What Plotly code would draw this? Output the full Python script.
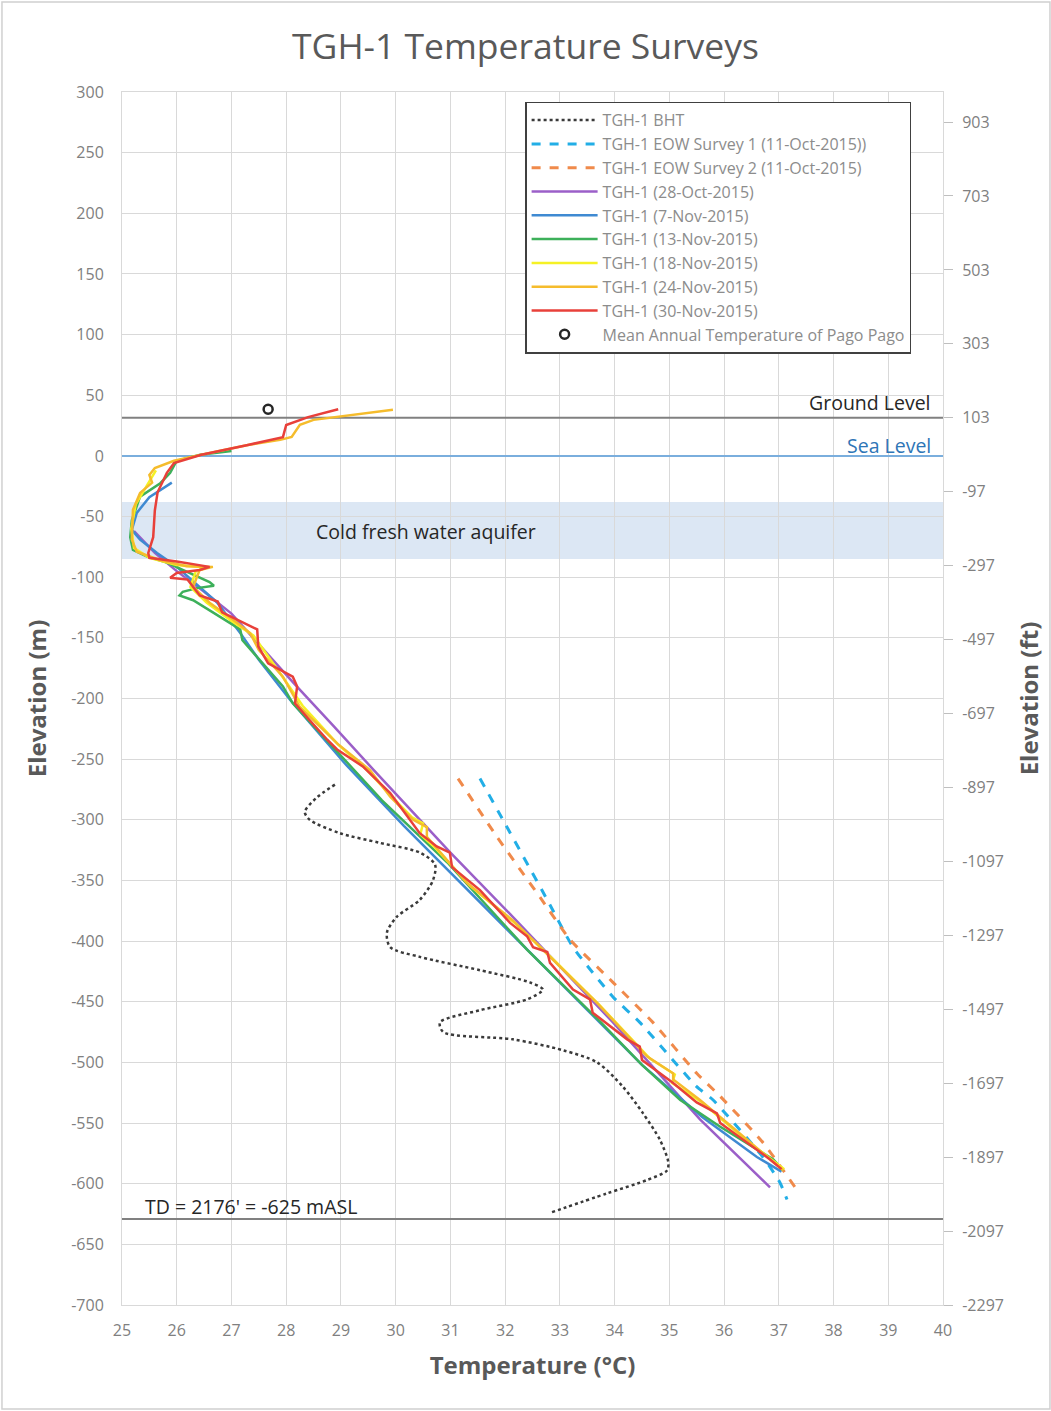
import plotly.graph_objects as go

# ---------------- data ----------------
bht_t = [28.89, 28.55, 28.34, 28.43, 28.98, 29.71, 30.44, 30.72, 30.68, 30.44,
         30.02, 29.84, 29.9, 30.44, 31.54, 32.45, 32.69, 32.4, 31.54, 30.81,
         30.87, 32.14, 33.06, 33.68, 34.15, 34.52, 34.83, 34.98, 34.96, 34.59,
         33.86, 32.82]
bht_z = [-271, -282, -293.5, -300, -311, -319, -327, -337, -350, -366,
         -380, -393, -405, -413, -424, -434, -440, -448, -457, -467,
         -475, -481, -490, -500, -520, -542, -564, -582, -589, -597,
         -608, -624]

eow1_t = [31.54, 31.96, 32.77, 33.24, 33.97, 34.46, 35.5, 35.8, 36.71, 37.02, 37.15]
eow1_z = [-266, -300, -366, -405, -446, -467, -520, -531, -578, -599, -613]

eow2_t = [31.14, 31.85, 32.64, 33.19, 33.97, 34.7, 35.5, 35.93, 36.71, 37.33]
eow2_z = [-266, -314, -364, -399, -434, -467, -509, -528, -566, -605]

oct28_t = [25.22, 25.6, 26.0, 26.5, 27.0, 27.5, 28.15, 28.85, 29.6, 31.0, 32.14, 33.97, 35.56, 36.84]
oct28_z = [-62, -80, -95, -112, -130, -155, -188, -222, -259, -327, -380, -467, -547, -603]

nov07_t = [25.91, 25.5, 25.27, 25.18, 25.33, 25.64, 25.99, 26.42, 26.74, 27.16,
           27.5, 28.07, 29.1, 30.15, 31.25, 32.35, 33.45, 34.5, 35.6, 36.6, 37.05]
nov07_z = [-22, -34, -47, -61, -69, -80, -91, -108, -121, -146,
           -168, -201, -255, -305, -355, -405, -455, -502, -545, -578, -590]

nov13_t = [27.0, 26.43, 26.0, 25.88, 25.7, 25.33, 25.18, 25.15, 25.2, 25.46,
           25.82, 26.24, 26.6, 26.68, 26.37, 26.11, 26.05, 26.3, 26.66, 27.16,
           27.2, 27.47, 27.94, 28.12, 29.17, 29.75, 30.94, 32.4, 33.75, 34.5,
           35.2, 35.93, 36.9, 37.08]
nov13_z = [4, 1, -4, -14, -22.5, -33.6, -53, -67, -77.5, -83,
           -88, -96.5, -104, -107, -109, -112, -115, -119, -129, -143,
           -152, -166, -190, -204, -256, -284, -335, -407, -467, -502,
           -531, -553, -580, -589]

nov18_t = [25.62, 25.45, 25.25, 25.17, 25.22, 25.5, 26.0, 26.55, 26.35, 26.25,
           26.55, 27.0, 27.4, 27.9, 28.3, 28.95, 29.5, 29.95, 30.3, 30.5,
           30.45, 30.7, 31.35, 32.2, 32.9, 33.75, 34.65, 35.1, 35.05, 35.6,
           36.45, 37.1]
nov18_z = [-12, -25, -40, -60, -76, -84, -90, -92, -95, -108,
           -121, -136, -148, -180, -206, -238, -260, -282, -298, -303,
           -312, -322, -354, -386, -416, -454, -497, -510, -517, -533,
           -566, -588]

nov24_t = [29.95, 29.22, 28.5, 28.25, 28.1, 27.89, 27.3, 26.45, 25.95, 25.6,
           25.5, 25.55, 25.33, 25.2, 25.18, 25.27, 25.7, 26.18, 26.66, 26.42,
           26.3, 26.6, 27.03, 27.34, 27.5, 27.94, 28.25, 28.93, 29.53, 29.9,
           30.32, 30.57, 30.57, 31.3, 32.14, 32.82, 33.68, 34.59, 35.07, 35.07,
           35.56, 36.4, 37.08]
nov24_z = [38, 33.8, 29.7, 25.6, 15.7, 13.2, 9, 1, -4, -10,
           -15.7, -22, -30.5, -44.5, -69, -79, -86, -91, -91.5, -94,
           -108, -121, -135, -146, -160, -182, -207, -237, -259, -281,
           -300, -306, -314, -352, -383, -413, -451, -495, -509, -514,
           -531, -563, -589]

nov30_t = [28.95, 28.4, 28.0, 27.94, 27.3, 26.45, 25.95, 25.82, 25.65, 25.6,
           25.57, 25.48, 25.5, 26.0, 26.6, 26.42, 26.0, 25.88, 26.2, 26.42,
           26.75, 26.83, 27.47, 27.49, 27.67, 28.12, 28.2, 28.16, 28.43, 28.75,
           28.93, 29.4, 29.9, 30.32, 30.44, 30.75, 30.99, 31.03, 31.54, 32.09,
           32.4, 32.51, 32.77, 32.82, 33.24, 33.55, 33.6, 34.23, 34.46, 34.5,
           35.07, 35.5, 35.87, 35.93, 36.42, 36.84, 37.05]
nov30_z = [38.5, 32, 25.5, 15.5, 9, 1, -6, -14, -30, -45,
           -67, -80, -84, -87, -91.5, -94, -96.5, -100.5, -102, -115,
           -120, -129, -143, -157, -171, -182, -190, -204, -218, -234,
           -242, -256, -278, -303, -311, -322, -327, -339, -358, -385,
           -396, -405, -409, -418, -440, -448, -459, -481, -487, -498,
           -517, -533, -542, -550, -566, -580, -588]

pago_t = [27.67]
pago_z = [38.5]

ground_level = 31.4
td_level = -629
aquifer_top = -38
aquifer_bottom = -85

m_ticks = list(range(-700, 301, 50))
m_labels = [str(v) for v in m_ticks]
ft_ticks = [-2297 + 200 * k for k in range(17)]
ft_labels = [str(v) for v in ft_ticks]

FONT = "Open Sans"
GRAY = "#595959"
TICK = "#808080"

fig = go.Figure()

fig.add_trace(go.Scatter(x=bht_t, y=bht_z, mode="lines", name="TGH-1 BHT",
                         line=dict(color="#3A3A3A", width=2.5, dash="dot", shape="spline", smoothing=0.8)))
fig.add_trace(go.Scatter(x=eow1_t, y=eow1_z, mode="lines", name="TGH-1 EOW Survey 1 (11-Oct-2015))",
                         line=dict(color="#22AEE6", width=3, dash="dash", shape="spline", smoothing=0.5)))
fig.add_trace(go.Scatter(x=eow2_t, y=eow2_z, mode="lines", name="TGH-1 EOW Survey 2 (11-Oct-2015)",
                         line=dict(color="#F08A4B", width=3, dash="dash", shape="spline", smoothing=0.5)))

solid = [
    (oct28_t, oct28_z, "TGH-1 (28-Oct-2015)", "#9B5FC8"),
    (nov07_t, nov07_z, "TGH-1 (7-Nov-2015)", "#3F8AD2"),
    (nov13_t, nov13_z, "TGH-1 (13-Nov-2015)", "#3DB05A"),
    (nov18_t, nov18_z, "TGH-1 (18-Nov-2015)", "#F5F125"),
    (nov24_t, nov24_z, "TGH-1 (24-Nov-2015)", "#F5BC2C"),
    (nov30_t, nov30_z, "TGH-1 (30-Nov-2015)", "#E8403A"),
]
for t, z, nm, col in solid:
    fig.add_trace(go.Scatter(x=t, y=z, mode="lines", name=nm,
                             line=dict(color=col, width=2.5)))

fig.add_trace(go.Scatter(x=pago_t, y=pago_z, mode="markers", name="Mean Annual Temperature of Pago Pago",
                         marker=dict(symbol="circle-open", size=9, color="#262626", line=dict(width=2.5))))

# invisible trace to make the right axis render
fig.add_trace(go.Scatter(x=[25, 40], y=[-2297, 984.25], yaxis="y2", mode="lines",
                         line=dict(width=0, color="rgba(0,0,0,0)"), showlegend=False, hoverinfo="skip"))

shapes = [
    dict(type="rect", xref="x", yref="y", x0=25, x1=40, y0=aquifer_bottom, y1=aquifer_top,
         fillcolor="#DCE7F4", line=dict(width=0), layer="below"),
    dict(type="line", xref="x", yref="y", x0=25, x1=40, y0=ground_level, y1=ground_level,
         line=dict(color="#808080", width=2), layer="between"),
    dict(type="line", xref="x", yref="y", x0=25, x1=40, y0=0, y1=0,
         line=dict(color="#7AAEDD", width=2), layer="between"),
    dict(type="line", xref="x", yref="y", x0=25, x1=40, y0=td_level, y1=td_level,
         line=dict(color="#808080", width=2), layer="between"),
    dict(type="rect", xref="paper", yref="paper", x0=-0.1462, x1=1.1303, y0=-0.0858, y1=1.0742,
         line=dict(color="#D0D0D0", width=1.5), fillcolor="rgba(0,0,0,0)", layer="below"),
]

ANN = 19.5
annotations = [
    dict(x=39.82, y=44, xref="x", yref="y", text="Ground Level", showarrow=False,
         xanchor="right", yanchor="middle", font=dict(family=FONT, size=ANN, color="#262626")),
    dict(x=39.82, y=8.5, xref="x", yref="y", text="Sea Level", showarrow=False,
         xanchor="right", yanchor="middle", font=dict(family=FONT, size=ANN, color="#2E75B6")),
    dict(x=30.55, y=-62.5, xref="x", yref="y", text="Cold fresh water aquifer", showarrow=False,
         xanchor="center", yanchor="middle", font=dict(family=FONT, size=ANN, color="#262626")),
    dict(x=25.38, y=-619, xref="x", yref="y", text="TD = 2176' = -625 mASL", showarrow=False,
         xanchor="left", yanchor="middle", font=dict(family=FONT, size=ANN, color="#262626")),
]

fig.update_layout(
    width=1051, height=1411,
    margin=dict(l=122, r=108, t=92, b=106),
    paper_bgcolor="white", plot_bgcolor="white",
    font=dict(family=FONT, color=GRAY),
    title=dict(text="TGH-1 Temperature Surveys", x=0.5, xanchor="center", y=1 - 47 / 1411, yanchor="middle",
               font=dict(family=FONT, size=35.5, color=GRAY)),
    xaxis=dict(range=[25, 40], tick0=25, dtick=1, showgrid=True, gridcolor="#D9D9D9", gridwidth=1,
               zeroline=False, showline=True, linecolor="#D9D9D9", mirror=True, ticks="",
               tickfont=dict(family=FONT, size=16, color=TICK), ticklabelstandoff=11,
               title=dict(text="Temperature (°C)", standoff=16,
                          font=dict(family=FONT, size=24, color=GRAY, weight="bold"))),
    yaxis=dict(range=[-700, 300], tickvals=m_ticks, ticktext=m_labels, showgrid=True, gridcolor="#D9D9D9",
               gridwidth=1, zeroline=False, showline=True, linecolor="#D9D9D9", mirror=True, ticks="",
               tickfont=dict(family=FONT, size=16, color=TICK), ticklabelstandoff=14,
               title=dict(text="Elevation (m)", standoff=17,
                          font=dict(family=FONT, size=24, color=GRAY, weight="bold"))),
    yaxis2=dict(overlaying="y", side="right", range=[-2297, 984.25], tickvals=ft_ticks, ticktext=ft_labels,
                showgrid=False, zeroline=False, ticks="outside", ticklen=9, tickcolor="#BFBFBF",
                tickfont=dict(family=FONT, size=16, color=TICK), ticklabelstandoff=6,
                title=dict(text="Elevation (ft)", standoff=18,
                           font=dict(family=FONT, size=24, color=GRAY, weight="bold"))),
    legend=dict(x=0.491, y=0.992, xanchor="left", yanchor="top", bgcolor="white",
                bordercolor="#404040", borderwidth=1.5, tracegroupgap=0,
                font=dict(family=FONT, size=16, color="#8C8C8C"), itemwidth=66,
                entrywidth=318, entrywidthmode="pixels"),
    shapes=shapes,
    annotations=annotations,
    showlegend=True,
)

fig.write_html("out.html")
